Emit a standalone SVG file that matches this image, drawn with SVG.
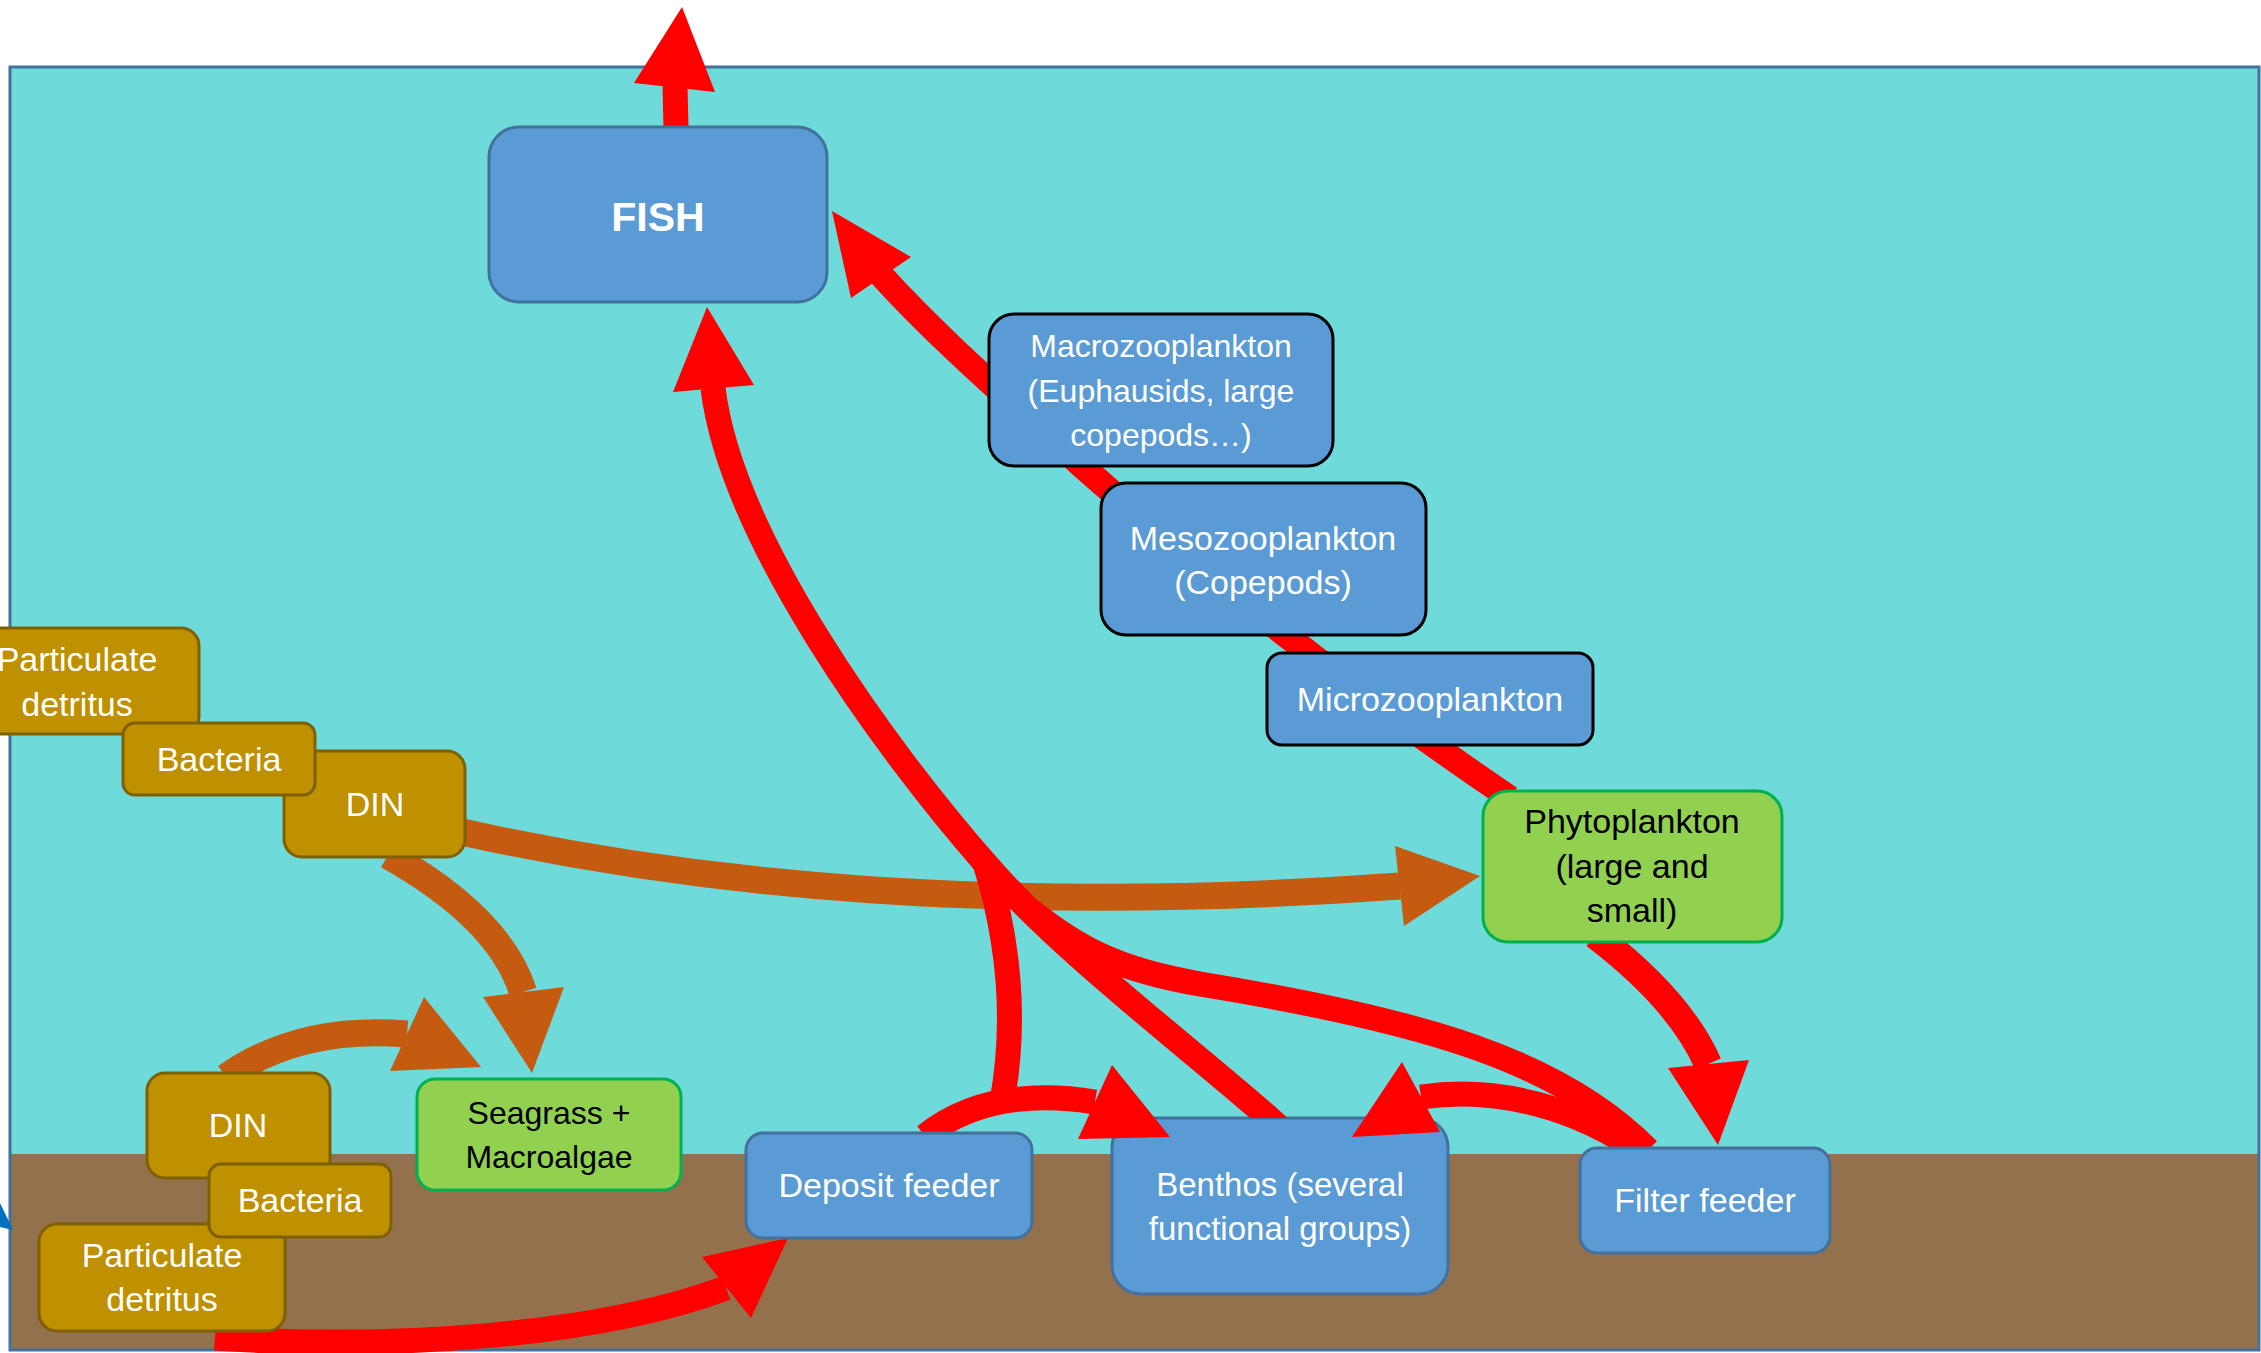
<svg xmlns="http://www.w3.org/2000/svg" width="2261" height="1353" viewBox="0 0 2261 1353">
<defs>
<style>
.blue{fill:#5B9BD5;stroke:#41719C;stroke-width:3}
.blueK{fill:#5B9BD5;stroke:#000;stroke-width:3}
.brown{fill:#BF9000;stroke:#7F6000;stroke-width:3}
.green{fill:#92D050;stroke:#00B050;stroke-width:3}
text{font-family:"Liberation Sans",Arial,sans-serif;text-anchor:middle}
.w{fill:#fff}
.k{fill:#000}
.red{fill:none;stroke:#FF0000;stroke-width:25}
.org{fill:none;stroke:#C55A11;stroke-width:27}
.redH{fill:#FF0000}
.orgH{fill:#C55A11}
</style>
<clipPath id="aboveBenthos"><rect x="0" y="0" width="2261" height="1118"/></clipPath>
</defs>
<g id="background">
<rect x="10" y="67" width="2249" height="1087" fill="#6FDADA"/>
<rect x="10" y="1154" width="2249" height="196" fill="#94714D"/>
<rect x="10" y="67" width="2249" height="1283" fill="none" stroke="#41719C" stroke-width="3"/>
<polygon points="0,1203 13,1230 0,1227" fill="#0070C0"/>
</g>
<g id="benthos">
<rect class="blue" x="1112" y="1118" width="336" height="176" rx="29"/>
<text class="w" x="1280" y="1196" font-size="33">Benthos (several</text>
<text class="w" x="1280" y="1240" font-size="33">functional groups)</text>
</g>
<g id="connectors">
<path class="org" d="M462,832 C700,885 1000,915 1400,886"/>
<polygon class="orgH" points="1480,876 1395,846 1404,926"/>
<path class="org" style="stroke-width:28" d="M388,855 C450,890 505,935 523,992"/>
<polygon class="orgH" points="532,1073 483,997 564,987"/>
<path class="org" d="M226,1077 Q300,1025 407,1034"/>
<polygon class="orgH" points="481,1067 424,997 390,1071"/>
<path class="red" d="M676,128 L675,86"/>
<polygon class="redH" points="682,7 634,83 715,92"/>
<path class="red" d="M1510,798 C1350,690 1200,570 1082,466 C1010,400 940,340 881,275"/>
<polygon class="redH" points="832,211 851,298 911,257"/>
<path class="red" clip-path="url(#aboveBenthos)" d="M1280,1128 L1268,1117 C1180,1040 1060,950 985,863 C886,750 731,538 713,388"/>
<path class="red" d="M1002,1102 C1015,1030 1012,950 985,863"/>
<path class="red" d="M1648,1150 C1560,1060 1420,1020 1200,984 C1120,970 1080,950 1030,910"/>
<polygon class="redH" points="707,307 673,392 754,385"/>
<path class="red" d="M925,1136 Q990,1085 1095,1102"/>
<polygon class="redH" points="1170,1137 1112,1065 1078,1139"/>
<path class="red" d="M1640,1152 C1580,1110 1500,1085 1421,1097"/>
<polygon class="redH" points="1352,1137 1402,1062 1440,1132"/>
<path class="red" style="stroke-width:28" d="M1595,935 Q1680,1000 1708,1064"/>
<polygon class="redH" points="1718,1145 1668,1068 1749,1060"/>
<path class="red" d="M215,1338 C400,1350 600,1335 726,1288"/>
<polygon class="redH" points="788,1238 702,1257 751,1318"/>
</g>
<g id="fish">
<rect class="blue" x="489" y="127" width="338" height="175" rx="30"/>
<text class="w" x="658" y="231" font-size="41" font-weight="bold">FISH</text>
</g>
<g id="macrozooplankton">
<rect class="blueK" x="989" y="314" width="344" height="152" rx="25"/>
<text class="w" x="1161" y="357" font-size="32">Macrozooplankton</text>
<text class="w" x="1161" y="402" font-size="32">(Euphausids, large</text>
<text class="w" x="1161" y="446" font-size="32">copepods…)</text>
</g>
<g id="mesozooplankton">
<rect class="blueK" x="1101" y="483" width="325" height="152" rx="25"/>
<text class="w" x="1263" y="550" font-size="34">Mesozooplankton</text>
<text class="w" x="1263" y="594" font-size="34">(Copepods)</text>
</g>
<g id="microzooplankton">
<rect class="blueK" x="1267" y="653" width="326" height="92" rx="15"/>
<text class="w" x="1430" y="711" font-size="34">Microzooplankton</text>
</g>
<g id="phytoplankton">
<rect class="green" x="1483" y="791" width="299" height="151" rx="25"/>
<text class="k" x="1632" y="833" font-size="34">Phytoplankton</text>
<text class="k" x="1632" y="878" font-size="34">(large and</text>
<text class="k" x="1632" y="922" font-size="34">small)</text>
</g>
<g id="deposit-feeder">
<rect class="blue" x="746" y="1133" width="286" height="105" rx="17"/>
<text class="w" x="889" y="1197" font-size="34">Deposit feeder</text>
</g>
<g id="filter-feeder">
<rect class="blue" x="1580" y="1148" width="250" height="105" rx="17"/>
<text class="w" x="1705" y="1212" font-size="34">Filter feeder</text>
</g>
<g id="seagrass">
<rect class="green" x="417" y="1079" width="264" height="111" rx="18"/>
<text class="k" x="549" y="1124" font-size="32">Seagrass +</text>
<text class="k" x="549" y="1168" font-size="32">Macroalgae</text>
</g>
<g id="detritus-water">
<rect class="brown" x="-45" y="628" width="244" height="106" rx="18"/>
<text class="w" x="77" y="671" font-size="34">Particulate</text>
<text class="w" x="77" y="716" font-size="34">detritus</text>
</g>
<g id="din-water">
<rect class="brown" x="284" y="751" width="181" height="106" rx="18"/>
<text class="w" x="375" y="816" font-size="34">DIN</text>
</g>
<g id="bacteria-water">
<rect class="brown" x="123" y="723" width="192" height="72" rx="12"/>
<text class="w" x="219" y="771" font-size="34">Bacteria</text>
</g>
<g id="din-sediment">
<rect class="brown" x="147" y="1073" width="183" height="105" rx="18"/>
<text class="w" x="238" y="1137" font-size="34">DIN</text>
</g>
<g id="detritus-sediment">
<rect class="brown" x="39" y="1224" width="246" height="107" rx="18"/>
<text class="w" x="162" y="1267" font-size="34">Particulate</text>
<text class="w" x="162" y="1311" font-size="34">detritus</text>
</g>
<g id="bacteria-sediment">
<rect class="brown" x="209" y="1164" width="182" height="73" rx="12"/>
<text class="w" x="300" y="1212" font-size="34">Bacteria</text>
</g>
</svg>
